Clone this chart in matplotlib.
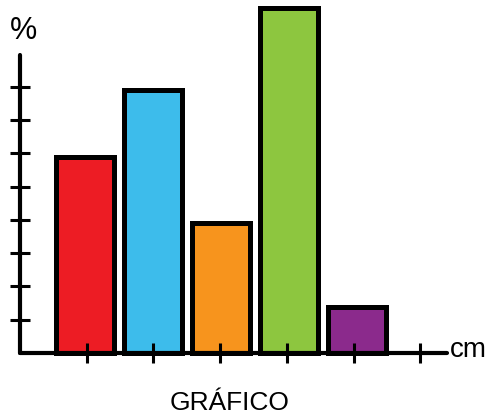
import matplotlib
matplotlib.use('Agg')
import matplotlib.pyplot as plt
import numpy as np

# data (units = y tick steps)
categories = ['A', 'B', 'C', 'D', 'E']
values = [5.9, 7.9, 3.9, 10.35, 1.37]
colors = ['#ED1C24', '#3DBCEB', '#F7941D', '#8DC63F', '#8B2A8C']
x_ticks = [1, 2, 3, 4, 5, 6]
y_ticks = [1, 2, 3, 4, 5, 6, 7, 8]

W, H = 492, 416
fig = plt.figure(figsize=(W / 100, H / 100), dpi=100)

# axes origin at pixel (20, 353); 1 x unit = 66.7 px, 1 y unit = 33.3 px
ux, uy = 66.7, 33.3
x0, y0 = 20, 353
xmax, ymax = 7.0, y0 / uy
ax = fig.add_axes([x0 / W, (H - y0) / H, xmax * ux / W, ymax * uy / H])
ax.set_xlim(0, xmax)
ax.set_ylim(0, ymax)

pos = np.arange(1, len(categories) + 1) + np.linspace(-0.02, 0.05, len(categories))
ax.bar(pos, values, width=0.87, color=colors, edgecolor='black',
       linewidth=3.6, zorder=2, clip_on=False)

for side in ['top', 'right']:
    ax.spines[side].set_visible(False)
ax.spines['left'].set_linewidth(3)
ax.spines['bottom'].set_linewidth(3)
ax.spines['left'].set_bounds(0, (y0 - 55) / uy)
ax.spines['bottom'].set_bounds(0, (447 - x0) / ux)
ax.spines['left'].set_capstyle('round')
ax.spines['bottom'].set_capstyle('round')

ax.set_xticks(x_ticks)
ax.set_yticks(y_ticks)
ax.tick_params(direction='inout', length=15, width=2.2, color='black',
               labelbottom=False, labelleft=False)
ax.xaxis.set_zorder(4)
ax.yaxis.set_zorder(4)
for s in ax.spines.values():
    s.set_zorder(4)
ax.set_facecolor('none')

font = 'Liberation Sans'
fig.text(23.5 / W, 1 - 31 / H, '%', fontsize=22, family=font,
         ha='center', va='center')
fig.text(450 / W, 1 - 350 / H, 'cm', fontsize=20, family=font,
         ha='left', va='center')
fig.text(230 / W, 1 - 403 / H, 'GRÁFICO', fontsize=19, family=font,
         ha='center', va='center')

plt.savefig('out.png', dpi=100, facecolor='white')
plt.close()
